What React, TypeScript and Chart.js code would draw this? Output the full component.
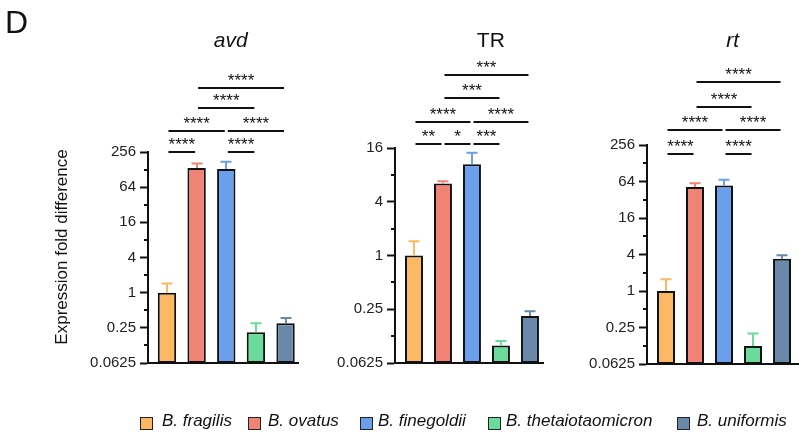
import React, { useEffect, useRef } from 'react';
import { Chart, registerables } from 'chart.js';

Chart.register(...registerables);

const FONT = '"Liberation Sans", Arial, Helvetica, sans-serif';

// Strains (one bar each, same order in every panel)
const species = ['B. fragilis', 'B. ovatus', 'B. finegoldii', 'B. thetaiotaomicron', 'B. uniformis'];
const speciesColors = ['#FDB863', '#F08375', '#6B9EEB', '#6BDB9B', '#6A88AA'];
const barSlots = [0, 1, 2, 3, 4];

// Mean expression fold difference and upper end of the error bar
const avdMean = [1, 136, 131, 0.21, 0.3];
const avdUpper = [1.44, 162, 175, 0.3, 0.37];
const trMean = [1, 6.4, 10.5, 0.098, 0.21];
const trUpper = [1.44, 6.8, 14.2, 0.11, 0.237];
const rtMean = [1, 52, 55, 0.124, 3.4];
const rtUpper = [1.56, 59.7, 68.6, 0.199, 3.9];

// Log2 axis ticks
const majorTicksWide = [0.0625, 0.25, 1, 4, 16, 64, 256];
const minorTicksWide = [0.125, 0.5, 2, 8, 32, 128];
const majorTicksNarrow = [0.0625, 0.25, 1, 4, 16];
const minorTicksNarrow = [0.125, 0.5, 2, 8];

// Pairwise comparisons: [bar a, bar b, stars, tier]
const avdStats: [number, number, string, number][] = [
  [0, 1, '****', 0],
  [2, 3, '****', 0],
  [0, 2, '****', 1],
  [2, 4, '****', 1],
  [1, 3, '****', 2],
  [1, 4, '****', 3],
];
const trStats: [number, number, string, number][] = [
  [0, 1, '**', 0],
  [1, 2, '*', 0],
  [2, 3, '***', 0],
  [0, 2, '****', 1],
  [2, 4, '****', 1],
  [1, 3, '***', 2],
  [1, 4, '***', 3],
];
const rtStats: [number, number, string, number][] = [
  [0, 1, '****', 0],
  [2, 3, '****', 0],
  [0, 2, '****', 1],
  [2, 4, '****', 1],
  [1, 3, '****', 2],
  [1, 4, '****', 3],
];

type PanelSpec = {
  title: string;
  italic: boolean;
  mean: number[];
  upper: number[];
  major: number[];
  minor: number[];
  stats: [number, number, string, number][];
  // layout
  left: number;
  width: number;
  axisX: number;
  right: number;
  top: number;
  bottom: number;
  xMin: number;
  xMax: number;
  tiers: number[];
  titleX: number;
  yTitle: boolean;
};

const panels: PanelSpec[] = [
  {
    title: 'avd', italic: true, mean: avdMean, upper: avdUpper,
    major: majorTicksWide, minor: minorTicksWide, stats: avdStats,
    left: 0, width: 300, axisX: 148, right: 298, top: 152, bottom: 363,
    xMin: -0.64, xMax: 4.42, tiers: [0.3, 21, 44, 64], titleX: 2.15, yTitle: true,
  },
  {
    title: 'TR', italic: false, mean: trMean, upper: trUpper,
    major: majorTicksNarrow, minor: minorTicksNarrow, stats: trStats,
    left: 300, width: 250, axisX: 395, right: 543, top: 148, bottom: 363,
    xMin: -0.655, xMax: 4.45, tiers: [3.7, 26, 50.3, 73.3], titleX: 2.65, yTitle: false,
  },
  {
    title: 'rt', italic: true, mean: rtMean, upper: rtUpper,
    major: majorTicksWide, minor: minorTicksWide, stats: rtStats,
    left: 550, width: 249, axisX: 647, right: 799, top: 145, bottom: 364,
    xMin: -0.655, xMax: 4.585, tiers: [-9.3, 14.7, 38.3, 63], titleX: 2.3, yTitle: false,
  },
];

function decorPlugin(spec: PanelSpec) {
  return {
    id: 'panelDecor',
    afterDatasetsDraw(chart: any) {
      const ctx: CanvasRenderingContext2D = chart.ctx;
      const xs = chart.scales.x;
      const ys = chart.scales.y;
      const area = chart.chartArea;
      ctx.save();

      // upward error bars
      ctx.lineWidth = 2;
      spec.mean.forEach((m, i) => {
        const px = Math.round(xs.getPixelForValue(i));
        const y0 = ys.getPixelForValue(m);
        const y1 = ys.getPixelForValue(spec.upper[i]);
        ctx.strokeStyle = speciesColors[i];
        ctx.beginPath();
        ctx.moveTo(px, y0);
        ctx.lineTo(px, y1);
        ctx.moveTo(px - 5.5, y1);
        ctx.lineTo(px + 5.5, y1);
        ctx.stroke();
      });

      // minor ticks on the y axis
      ctx.strokeStyle = '#111';
      ctx.lineWidth = 2;
      spec.minor.forEach((v) => {
        const py = Math.round(ys.getPixelForValue(v));
        ctx.beginPath();
        ctx.moveTo(area.left - 4, py);
        ctx.lineTo(area.left, py);
        ctx.stroke();
      });

      // significance brackets
      ctx.fillStyle = '#111';
      ctx.font = `17px ${FONT}`;
      ctx.textAlign = 'center';
      ctx.textBaseline = 'alphabetic';
      spec.stats.forEach(([a, b, stars, tier]) => {
        const yy = Math.round(area.top - spec.tiers[tier]);
        const x1 = xs.getPixelForValue(a) + 1.5;
        const x2 = xs.getPixelForValue(b) - 1.5;
        ctx.beginPath();
        ctx.moveTo(x1, yy);
        ctx.lineTo(x2, yy);
        ctx.stroke();
        ctx.fillText(stars, (x1 + x2) / 2, yy - 2);
      });

      // panel title
      ctx.font = `${spec.italic ? 'italic ' : ''}21px ${FONT}`;
      ctx.fillText(spec.title, xs.getPixelForValue(spec.titleX), 47);

      if (spec.yTitle) {
        ctx.font = `32px ${FONT}`;
        ctx.textAlign = 'left';
        ctx.fillText('D', 5, 33);

        ctx.translate(62, 247);
        ctx.rotate(-Math.PI / 2);
        ctx.font = `17px ${FONT}`;
        ctx.textAlign = 'center';
        ctx.textBaseline = 'middle';
        ctx.fillText('Expression fold difference', 0, 0);
      }
      ctx.restore();
    },
  };
}

function Panel({ spec }: { spec: PanelSpec }) {
  const ref = useRef<HTMLCanvasElement>(null);
  useEffect(() => {
    const canvas = ref.current;
    if (!canvas) return;
    const chart = new Chart(canvas, {
      type: 'bar',
      data: {
        datasets: [
          {
            data: spec.mean.map((v, i) => ({ x: barSlots[i], y: v })),
            backgroundColor: speciesColors,
            borderColor: '#111',
            borderWidth: 2,
            borderSkipped: false,
            barPercentage: 0.62,
            categoryPercentage: 1,
          } as any,
        ],
      },
      options: {
        responsive: false,
        animation: false,
        devicePixelRatio: 1,
        layout: {
          padding: {
            left: 0,
            right: spec.width - (spec.right - spec.left),
            top: spec.top,
            bottom: 432 - spec.bottom,
          },
        },
        plugins: { legend: { display: false }, tooltip: { enabled: false }, title: { display: false } },
        scales: {
          x: {
            type: 'linear',
            offset: false,
            bounds: 'data',
            min: spec.xMin,
            max: spec.xMax,
            afterBuildTicks: (s: any) => {
              s.ticks = barSlots.map((v) => ({ value: v }));
            },
            ticks: { display: false },
            grid: { display: true, offset: false, drawOnChartArea: false, drawTicks: false },
            border: { display: true, color: '#111', width: 2 },
            afterFit: (s: any) => {
              s.height = 0;
            },
          },
          y: {
            type: 'logarithmic',
            min: spec.major[0],
            max: spec.major[spec.major.length - 1],
            afterBuildTicks: (s: any) => {
              s.ticks = spec.major.map((v) => ({ value: v }));
            },
            afterFit: (s: any) => {
              s.width = spec.axisX - spec.left;
            },
            ticks: {
              autoSkip: false,
              callback: (v: any) => String(v),
              color: '#222',
              font: { family: FONT, size: 15 },
              padding: 4,
            },
            grid: {
              drawOnChartArea: false,
              drawTicks: true,
              tickLength: 8,
              tickWidth: 2,
              tickColor: '#111',
            },
            border: { display: true, color: '#111', width: 2 },
          },
        },
      } as any,
      plugins: [decorPlugin(spec)],
    });
    return () => chart.destroy();
  }, [spec]);
  return (
    <canvas
      ref={ref}
      width={spec.width}
      height={432}
      style={{ position: 'absolute', left: spec.left, top: 0, width: spec.width, height: 432 }}
    />
  );
}

// legend placement
const legendBoxX = [140, 248, 360, 488, 677];
const legendTextX = [162, 268, 378, 506, 697];

export default function App() {
  return (
    <div style={{ position: 'absolute', left: 0, top: 0, width: 799, height: 432, background: '#fff', overflow: 'hidden' }}>
      {panels.map((p) => (
        <Panel key={p.title} spec={p} />
      ))}
      {species.map((name, i) => (
        <React.Fragment key={name}>
          <div
            style={{
              position: 'absolute',
              left: legendBoxX[i],
              top: 417,
              width: 13,
              height: 13,
              boxSizing: 'border-box',
              border: '1.5px solid #222',
              background: speciesColors[i],
            }}
          />
          <div
            style={{
              position: 'absolute',
              left: legendTextX[i],
              top: 412,
              height: 18,
              lineHeight: '18px',
              fontFamily: FONT,
              fontStyle: 'italic',
              fontSize: 17,
              color: '#111',
              whiteSpace: 'nowrap',
            }}
          >
            {name}
          </div>
        </React.Fragment>
      ))}
    </div>
  );
}
